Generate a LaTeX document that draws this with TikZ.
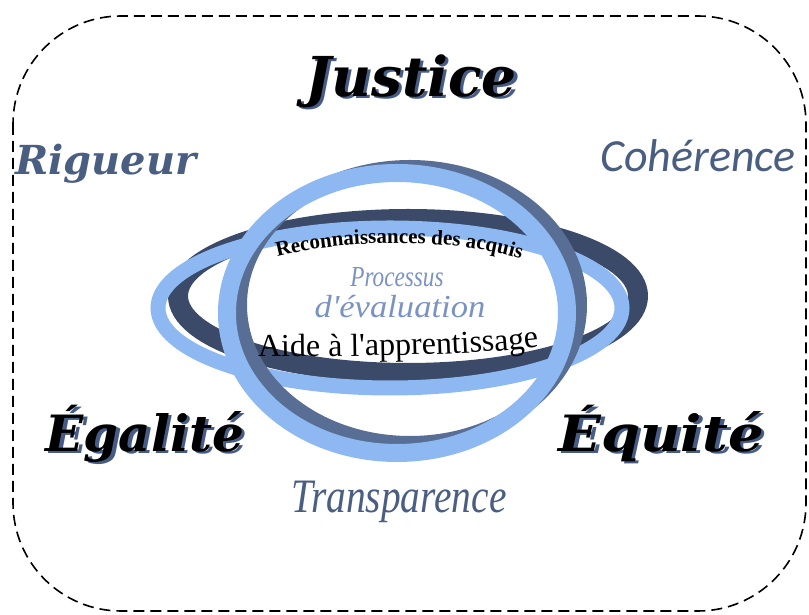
\documentclass[tikz,border=0pt]{standalone}
\usepackage{fontspec}
\setmainfont{Liberation Serif}[Ligatures=TeXOff]
\newfontfamily\titlefont{DejaVu Serif}
\newfontfamily\calfont{Carlito}
\usetikzlibrary{decorations.text}

\definecolor{lightring}{RGB}{142,184,242}
\definecolor{slatering}{RGB}{88,110,148}
\definecolor{darkring}{RGB}{58,74,104}
\definecolor{slatetext}{RGB}{74,94,130}
\definecolor{proctext}{RGB}{122,146,196}
\definecolor{shadowc}{RGB}{70,92,135}

\newcommand{\shadowtext}[1]{\makebox[0pt][l]{\hspace{3.5pt}\raisebox{-2pt}{\textcolor{shadowc}{#1}}}#1}

\tikzset{
  border/.style={dash pattern=on 11pt off 6pt, line width=1.6pt, rounded corners=108pt},
  bigtitle/.style={font=\titlefont\bfseries\itshape\fontsize{#1}{#1}\selectfont, anchor=base, inner sep=0pt},
  sidetitle/.style={anchor=base, inner sep=0pt, text=slatetext},
  proc/.style={anchor=base, inner sep=0pt, text=proctext},
}

\begin{document}
\begin{tikzpicture}[x=1pt,y=1pt]
\useasboundingbox (0,0) rectangle (809,615);
\draw[border] (13,599) rectangle (806,4);

% horizontal ring
\draw[darkring, line width=20pt] (408,319) ellipse [x radius=230, y radius=77];
\draw[lightring, line width=15pt] (390,307) ellipse [x radius=232, y radius=80];
% vertical ring
\draw[slatering, line width=14pt] (410,310) ellipse [x radius=170, y radius=138];
\draw[lightring, line width=18pt] (397,302) ellipse [x radius=170, y radius=140];

% titles with shadow
\node[bigtitle=55] (justice) at (411,518) {\shadowtext{Justice}};
\node[bigtitle=50] (egalite) at (145,163) {\shadowtext{Égalité}};
\node[bigtitle=50, xscale=1.12] (equite) at (661,163) {\shadowtext{Équité}};

% side words
\node[sidetitle, font=\titlefont\bfseries\itshape\fontsize{40}{40}\selectfont] (rigueur) at (106,440) {Rigueur};
\node[sidetitle, font=\calfont\itshape\fontsize{46}{46}\selectfont] (coherence) at (698,443) {Cohérence};
\node[sidetitle, font=\itshape\fontsize{48}{48}\selectfont, xscale=0.82] (transp) at (399,102) {Transparence};

% centre texts
\node[proc, font=\itshape\fontsize{29}{29}\selectfont, xscale=0.8] (processus) at (397,328) {Processus};
\node[proc, font=\itshape\fontsize{32}{32}\selectfont, xscale=1.08] (evaluation) at (400,297) {d'évaluation};

\path[decorate, decoration={text along path, text align=center,
  text={|\bfseries\fontsize{21}{22}\selectfont|Reconnaissances des acquis}}]
  (266,355) .. controls (340,377) and (460,379) .. (532,352);

\path[decorate, decoration={text along path, text align=center,
  text={|\fontsize{32}{34}\selectfont|Aide à l'apprentissage}}]
  (252,258) .. controls (400,259) and (490,261) .. (545,269);
\end{tikzpicture}
\end{document}
